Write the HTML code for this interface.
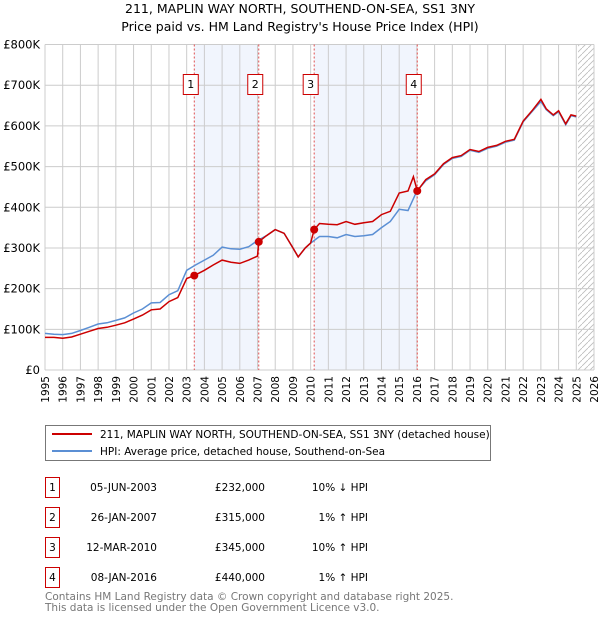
<!DOCTYPE html>
<html><head><meta charset="utf-8"><style>
body{margin:0;background:#fff;font-family:"DejaVu Sans","Liberation Sans",sans-serif;}
svg text{font-family:"DejaVu Sans","Liberation Sans",sans-serif;}
</style></head><body>
<svg id="chart" width="600" height="620" xmlns="http://www.w3.org/2000/svg">
<text x="300" y="13" text-anchor="middle" font-size="12.5" fill="#000">211, MAPLIN WAY NORTH, SOUTHEND-ON-SEA, SS1 3NY</text>
<text x="300" y="31" text-anchor="middle" font-size="12.5" fill="#000">Price paid vs. HM Land Registry's House Price Index (HPI)</text>
<g id="plot"></g>
<g>
<rect x="45.5" y="425.5" width="445" height="35" fill="#fff" stroke="#777"/>
<line x1="52" y1="434" x2="92" y2="434" stroke="#cc0000" stroke-width="2"/>
<text x="100" y="438" font-size="10.5">211, MAPLIN WAY NORTH, SOUTHEND-ON-SEA, SS1 3NY (detached house)</text>
<line x1="52" y1="451" x2="92" y2="451" stroke="#5b8fd4" stroke-width="2"/>
<text x="100" y="455" font-size="10.5">HPI: Average price, detached house, Southend-on-Sea</text>
</g>
<g id="table"></g>
<text x="45" y="600" font-size="10.5" fill="#777">Contains HM Land Registry data © Crown copyright and database right 2025.</text>
<text x="45" y="611" font-size="10.5" fill="#777">This data is licensed under the Open Government Licence v3.0.</text>
</svg>
<script>
const hpiYears=[1995,1995.5,1996,1996.5,1997,1997.5,1998,1998.5,1999,1999.5,2000,2000.5,2001,2001.5,2002,2002.5,2003,2003.5,2004,2004.5,2005,2005.5,2006,2006.5,2007,2007.5,2008,2008.5,2009,2009.3,2009.7,2010,2010.5,2011,2011.5,2012,2012.5,2013,2013.5,2014,2014.5,2015,2015.5,2016,2016.5,2017,2017.5,2018,2018.5,2019,2019.5,2020,2020.5,2021,2021.5,2022,2022.5,2023,2023.3,2023.7,2024,2024.4,2024.7,2025];
const hpiValues=[90,88,87,90,97,105,113,116,122,128,140,150,165,166,185,195,245,258,270,282,302,298,297,303,318,330,345,336,300,278,300,312,328,328,325,333,328,330,333,350,365,395,392,440,465,480,505,520,525,540,535,545,550,560,565,610,635,660,640,625,635,603,625,622];
const paidYears=[1995,1995.5,1996,1996.5,1997,1997.5,1998,1998.5,1999,1999.5,2000,2000.5,2001,2001.5,2002,2002.5,2003,2003.43,2004,2004.5,2005,2005.5,2006,2006.5,2007,2007.07,2007.5,2008,2008.5,2009,2009.3,2009.7,2010,2010.2,2010.5,2011,2011.5,2012,2012.5,2013,2013.5,2014,2014.5,2015,2015.5,2015.8,2016.02,2016.5,2017,2017.5,2018,2018.5,2019,2019.5,2020,2020.5,2021,2021.5,2022,2022.5,2023,2023.3,2023.7,2024,2024.4,2024.7,2025];
const paidValues=[80,80,78,81,88,95,102,105,110,116,125,135,148,150,168,178,225,232,245,258,270,265,262,270,280,315,330,345,336,300,278,300,312,345,360,358,357,365,358,362,365,382,390,435,440,475,440,468,482,507,522,527,542,537,547,552,562,567,612,637,665,642,627,637,605,627,624];
const saleYears=[2003.43,2007.07,2010.2,2016.02];
const saleValues=[232,315,345,440];
const saleLabels=["1","2","3","4"];
const saleDates=["05-JUN-2003","26-JAN-2007","12-MAR-2010","08-JAN-2016"];
const salePrices=["£232,000","£315,000","£345,000","£440,000"];
const saleDiffs=["10% ↓ HPI","1% ↑ HPI","10% ↑ HPI","1% ↑ HPI"];
const yTicks=[0,100,200,300,400,500,600,700,800];
const yTickLabels=["£0","£100K","£200K","£300K","£400K","£500K","£600K","£700K","£800K"];
const xTicks=[1995,1996,1997,1998,1999,2000,2001,2002,2003,2004,2005,2006,2007,2008,2009,2010,2011,2012,2013,2014,2015,2016,2017,2018,2019,2020,2021,2022,2023,2024,2025,2026];

const X0=45,X1=594,Y0=370,Y1=44.5;
const xs=y=>X0+(y-1995)/(2026-1995)*(X1-X0);
const ys=v=>Y0-v/800*(Y0-Y1);
const NS="http://www.w3.org/2000/svg";
const plot=document.getElementById('plot');
function mk(tag,attrs,parent){const e=document.createElementNS(NS,tag);for(const k in attrs)e.setAttribute(k,attrs[k]);(parent||plot).appendChild(e);return e;}
mk('rect',{x:X0,y:Y1,width:X1-X0,height:Y0-Y1,fill:'#fff'});
for(let i=0;i<saleYears.length;i+=2){
 const b=mk('rect',{x:xs(saleYears[i]),y:Y1,width:xs(saleYears[i+1])-xs(saleYears[i]),height:Y0-Y1,fill:'#eef3fc',opacity:0.8});
 
 
}
const defs=mk('defs',{});
const pat=mk('pattern',{id:'hatch',width:6,height:6,patternUnits:'userSpaceOnUse'},defs);
mk('path',{d:'M0,6 L6,0',stroke:'#bbb','stroke-width':0.8},pat);
const hx=xs(2025.1);
const h=mk('rect',{x:hx,y:Y1,width:X1-hx,height:Y0-Y1,fill:'url(#hatch)'});


xTicks.forEach(t=>{
 const l=mk('line',{x1:xs(t),x2:xs(t),y1:Y1,y2:Y0,stroke:'#ccc','stroke-width':1});
 
 
 const tx=mk('text',{x:0,y:0,'font-size':10.5,'text-anchor':'end',transform:`translate(${xs(t)+4},${Y0+6}) rotate(-90)`});
 tx.textContent=t;
 
 
});
yTicks.forEach((t,i)=>{
 const l=mk('line',{x1:X0,x2:X1,y1:ys(t),y2:ys(t),stroke:'#ccc','stroke-width':1});
 
 
 const tx=mk('text',{x:X0-5,y:ys(t)+4,'font-size':11.5,'text-anchor':'end'});
 tx.textContent=yTickLabels[i];
 
 
});
saleYears.forEach((s,i)=>{
 const l=mk('line',{x1:xs(s),x2:xs(s),y1:Y1,y2:Y0,stroke:'#e05050','stroke-width':1,'stroke-dasharray':'2,2'});
 
 
});
function path(xa,va){return xa.map((x,i)=>(i?'L':'M')+xs(x).toFixed(1)+','+ys(va[i]).toFixed(1)).join(' ');}
const hl=mk('path',{d:path(hpiYears,hpiValues),fill:'none',stroke:'#5b8fd4','stroke-width':1.5});


const pl=mk('path',{d:path(paidYears,paidValues),fill:'none',stroke:'#cc0000','stroke-width':1.5});


saleYears.forEach((s,i)=>{
 const c=mk('circle',{cx:xs(s),cy:ys(saleValues[i]),r:4,fill:'#cc0000'});
 
 
 const bx=xs(s)-8;
 const r=mk('rect',{x:bx-3,y:74.5,width:15,height:20,fill:'#fff',stroke:'#cc0000'});
 
 
 const t=mk('text',{x:bx+4.5,y:88,'font-size':11,'text-anchor':'middle'});
 t.textContent=saleLabels[i];
 
 
});
const table=document.getElementById('table');
saleLabels.forEach((lab,i)=>{
 const y=477+i*30;
 const g=mk('g',{},table);
 
 
 mk('rect',{x:45.5,y:y+0.5,width:14,height:20,fill:'#fff',stroke:'#cc0000'},g);
 const a=mk('text',{x:52.5,y:y+14,'font-size':10.5,'text-anchor':'middle'},g);a.textContent=lab;
 const d=mk('text',{x:157,y:y+14,'font-size':10.5,'text-anchor':'end'},g);d.textContent=saleDates[i];
 const p=mk('text',{x:265,y:y+14,'font-size':10.5,'text-anchor':'end'},g);p.textContent=salePrices[i];
 const f=mk('text',{x:368,y:y+14,'font-size':10.5,'text-anchor':'end'},g);f.textContent=saleDiffs[i];
});
</script>
</body></html>
